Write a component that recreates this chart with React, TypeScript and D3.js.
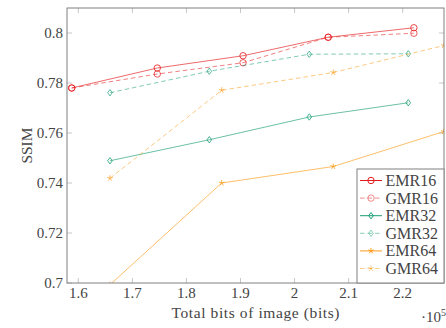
import * as d3 from "d3";

// x values are in units of 10^5 bits
const xs16 = [1.5878, 1.7461, 1.9047, 2.0622, 2.2207];
const xs32 = [1.6586, 1.8423, 2.0272, 2.2103];
const xs64 = [1.6586, 1.8652, 2.0716, 2.2763];

const emr16 = [0.778, 0.786, 0.7909, 0.7983, 0.8021];
const gmr16 = [0.778, 0.7836, 0.7881, 0.7983, 0.7999];
const emr32 = [0.7489, 0.7573, 0.7664, 0.7721];
const gmr32 = [0.7761, 0.7847, 0.7915, 0.7917];
const emr64 = [0.6993, 0.74, 0.7466, 0.7606];
const gmr64 = [0.7419, 0.7771, 0.7842, 0.795];

const xTicks = [1.6, 1.7, 1.8, 1.9, 2, 2.1, 2.2];
const yTicks = [0.7, 0.72, 0.74, 0.76, 0.78, 0.8];

const width = 446;
const height = 328;
const frame = { left: 67, right: 444, top: 8, bottom: 283 };

type Mark = "circle" | "diamond" | "star";

const series = [
  { name: "EMR16", xs: xs16, ys: emr16, color: "#e41a1c", dashed: false, mark: "circle" as Mark },
  { name: "GMR16", xs: xs16, ys: gmr16, color: "#e41a1c", dashed: true, mark: "circle" as Mark },
  { name: "EMR32", xs: xs32, ys: emr32, color: "#1b9e77", dashed: false, mark: "diamond" as Mark },
  { name: "GMR32", xs: xs32, ys: gmr32, color: "#1b9e77", dashed: true, mark: "diamond" as Mark },
  { name: "EMR64", xs: xs64, ys: emr64, color: "#fa9d1c", dashed: false, mark: "star" as Mark },
  { name: "GMR64", xs: xs64, ys: gmr64, color: "#fa9d1c", dashed: true, mark: "star" as Mark },
];

const font = "'Liberation Serif', 'DejaVu Serif', serif";
const textColor = "#444";

function Marker({ kind, x, y, color, opacity }: { kind: Mark; x: number; y: number; color: string; opacity: number }) {
  if (kind === "circle") {
    return <circle cx={x} cy={y} r={3.2} fill="none" stroke={color} strokeOpacity={opacity} strokeWidth={1} />;
  }
  if (kind === "diamond") {
    const d = `M${x},${y - 3.2}L${x + 2.3},${y}L${x},${y + 3.2}L${x - 2.3},${y}Z`;
    return <path d={d} fill="none" stroke={color} strokeOpacity={opacity} strokeWidth={1} />;
  }
  const spokes = d3.range(5).map((i) => {
    const a = -Math.PI / 2 + (i * 2 * Math.PI) / 5;
    return `M${x},${y}L${x + 3 * Math.cos(a)},${y + 3 * Math.sin(a)}`;
  });
  return <path d={spokes.join("")} fill="none" stroke={color} strokeOpacity={opacity} strokeWidth={1} />;
}

export default function App() {
  const x = d3.scaleLinear().domain([1.5791, 2.2764]).range([frame.left, frame.right]);
  const y = d3.scaleLinear().domain([0.7, 0.81]).range([frame.bottom, frame.top]);
  const line = d3
    .line<[number, number]>()
    .x((d) => x(d[0]))
    .y((d) => y(d[1]));

  const legendX = 357;
  const legendY = 169;
  const rowH = 17.6;

  return (
    <svg width={width} height={height} style={{ position: "absolute", left: 0, top: 0, background: "#fff" }}>
      <defs>
        <clipPath id="plot-clip">
          <rect x={frame.left} y={frame.top} width={frame.right - frame.left} height={frame.bottom - frame.top} />
        </clipPath>
      </defs>

      {xTicks.map((t) => (
        <g key={`x-${t}`}>
          <line x1={x(t)} x2={x(t)} y1={frame.bottom} y2={frame.bottom - 5} stroke="#c8c8c8" />
          <line x1={x(t)} x2={x(t)} y1={frame.top} y2={frame.top + 5} stroke="#c8c8c8" />
          <text x={x(t)} y={frame.bottom + 15} textAnchor="middle" fontFamily={font} fontSize={15} fill={textColor}>
            {t === 2 ? "2" : t.toFixed(1)}
          </text>
        </g>
      ))}

      {yTicks.map((t) => (
        <g key={`y-${t}`}>
          <line x1={frame.left} x2={frame.left + 5} y1={y(t)} y2={y(t)} stroke="#c8c8c8" />
          <line x1={frame.right} x2={frame.right - 5} y1={y(t)} y2={y(t)} stroke="#c8c8c8" />
          <text x={frame.left - 4} y={y(t) + 5} textAnchor="end" fontFamily={font} fontSize={15} fill={textColor}>
            {t === 0.7 || t === 0.8 ? t.toFixed(1) : t.toFixed(2)}
          </text>
        </g>
      ))}

      <g clipPath="url(#plot-clip)">
        {series.map((s) => {
          const pts = s.xs.map((v, i) => [v, s.ys[i]] as [number, number]);
          const op = s.dashed ? 0.55 : 0.65;
          return (
            <g key={s.name}>
              <path
                d={line(pts) ?? ""}
                fill="none"
                stroke={s.color}
                strokeOpacity={op}
                strokeWidth={1}
                strokeDasharray={s.dashed ? "4.5 3" : undefined}
              />
              {pts.map((p, i) => (
                <Marker key={i} kind={s.mark} x={x(p[0])} y={y(p[1])} color={s.color} opacity={op + 0.15} />
              ))}
            </g>
          );
        })}
      </g>

      <rect
        x={frame.left}
        y={frame.top}
        width={frame.right - frame.left}
        height={frame.bottom - frame.top}
        fill="none"
        stroke="#808080"
        strokeWidth={1}
      />

      <rect x={legendX} y={legendY} width={frame.right - legendX} height={frame.bottom - legendY} fill="#fff" stroke="#808080" strokeWidth={1} />
      {series.map((s, i) => {
        const cy = legendY + 11.5 + i * rowH;
        const op = s.dashed ? 0.5 : 1;
        return (
          <g key={`leg-${s.name}`}>
            <line
              x1={360}
              x2={382}
              y1={cy}
              y2={cy}
              stroke={s.color}
              strokeOpacity={op}
              strokeWidth={1}
              strokeDasharray={s.dashed ? "4.5 3" : undefined}
            />
            <Marker kind={s.mark} x={371} y={cy} color={s.color} opacity={op} />
            <text x={385.5} y={cy + 5.5} fontFamily={font} fontSize={16} fill={textColor}>
              {s.name}
            </text>
          </g>
        );
      })}

      <text
        x={(frame.left + frame.right) / 2}
        y={318}
        textAnchor="middle"
        fontFamily={font}
        fontSize={15.5}
        fill={textColor}
        textLength={168}
        lengthAdjust="spacing"
      >
        Total bits of image (bits)
      </text>
      <text x={421} y={322} fontFamily={font} fontSize={15} fill={textColor}>
        ·10<tspan dy={-6} fontSize={10}>5</tspan>
      </text>
      <text
        transform={`translate(31.5, ${(frame.top + frame.bottom) / 2}) rotate(-90)`}
        textAnchor="middle"
        fontFamily={font}
        fontSize={15.5}
        fill={textColor}
        textLength={36}
        lengthAdjust="spacing"
      >
        SSIM
      </text>
    </svg>
  );
}
